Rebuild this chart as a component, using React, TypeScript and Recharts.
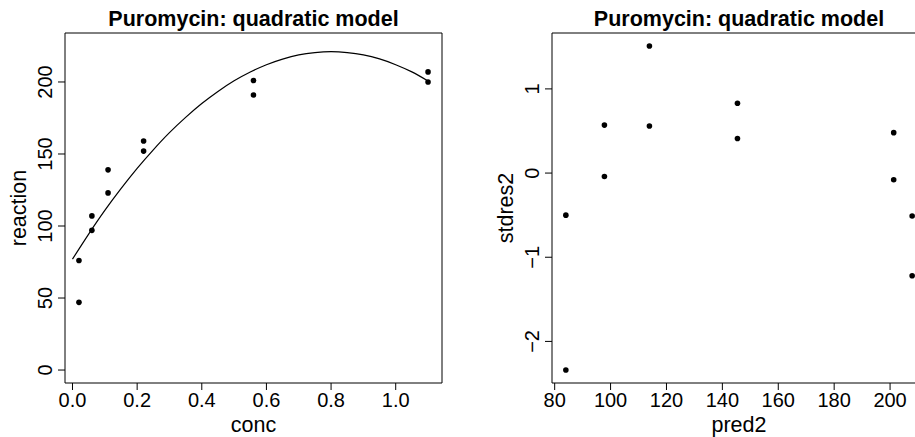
import React from 'react';
import { ComposedChart, ScatterChart, Scatter, Line, XAxis, YAxis, ReferenceArea } from 'recharts';

// Puromycin (treated) observations
const concValues = [0.02, 0.02, 0.06, 0.06, 0.11, 0.11, 0.22, 0.22, 0.56, 0.56, 1.1, 1.1];
const reactionValues = [76, 47, 97, 107, 123, 139, 159, 152, 191, 201, 207, 200];

// fitted quadratic curve
const fitConc = [0, 0.05, 0.1, 0.15, 0.2, 0.25, 0.3, 0.35, 0.4, 0.45, 0.5, 0.55, 0.6, 0.65, 0.7, 0.75, 0.8, 0.85, 0.9, 0.95, 1.0, 1.05, 1.1];
const fitReaction = [77, 94.4, 110.8, 125.9, 140, 152.9, 164.8, 175.4, 185, 193.4, 200.8, 206.9, 212, 215.9, 218.8, 220.4, 221, 220.4, 218.8, 216, 212, 207, 200.7];

// right panel: fitted values vs standardized residuals
const pred2Values = [84.0, 84.0, 97.8, 97.8, 113.9, 113.9, 145.4, 145.4, 207.9, 207.9, 201.3, 201.3];
const stdres2Values = [-0.5, -2.34, -0.04, 0.57, 0.56, 1.51, 0.83, 0.41, -1.22, -0.51, 0.48, -0.08];

const concTicks = [0, 0.2, 0.4, 0.6, 0.8, 1.0];
const reactionTicks = [0, 50, 100, 150, 200];
const reactionLimits = [0, 225];
const pred2Ticks = [80, 100, 120, 140, 160, 180, 200];
const stdres2Ticks = [-2, -1, 0, 1];

const FONT = '"Liberation Sans", Arial, Helvetica, sans-serif';

// R style axis range: data range padded by 4% each side
const rRange = (vals: number[]): [number, number] => {
  const lo = Math.min(...vals);
  const hi = Math.max(...vals);
  const ext = (hi - lo) * 0.04;
  return [lo - ext, hi + ext];
};

const leftX = rRange(concValues);
const leftY = rRange(reactionLimits);
const rightX = rRange(pred2Values);
const rightY = rRange(stdres2Values);

const obsData = concValues.map((c, i) => ({ x: c, y: reactionValues[i] }));
const fitData = fitConc.map((c, i) => ({ x: c, y: fitReaction[i] }));
const residData = pred2Values.map((p, i) => ({ x: p, y: stdres2Values[i] }));

const fmtMinus = (v: number) => (v < 0 ? '\u2212' + Math.abs(v) : String(v));

const XTick = ({ x, y, payload, fmt }: any) => (
  <text x={x} y={y} dy={15} textAnchor="middle" fontSize={20} fontFamily={FONT} fill="#000">
    {fmt(payload.value)}
  </text>
);

const YTick = ({ x, y, payload, fmt }: any) => (
  <text
    x={x - 4}
    y={y}
    transform={`rotate(-90 ${x - 4} ${y})`}
    textAnchor="middle"
    fontSize={20}
    fontFamily={FONT}
    fill="#000"
  >
    {fmt(payload.value)}
  </text>
);

const dot = (p: any) => <circle cx={p.cx} cy={p.cy} r={2.8} fill="#000" />;

const App = () => {
  return (
    <div style={{ position: 'absolute', left: 0, top: 0, width: 915, height: 437, overflow: 'hidden', background: '#fff' }}>
      <div style={{ position: 'absolute', left: 0, top: 0 }}>
        <ComposedChart width={460} height={437} margin={{ top: 33, right: 18, bottom: 0, left: 0 }}>
          <XAxis
            type="number"
            dataKey="x"
            domain={leftX}
            allowDataOverflow
            ticks={concTicks}
            interval={0}
            height={54}
            axisLine={false}
            tickSize={7}
            tickLine={{ stroke: '#000' }}
            tick={(p: any) => <XTick {...p} fmt={(v: number) => v.toFixed(1)} />}
          />
          <YAxis
            type="number"
            dataKey="y"
            domain={leftY}
            allowDataOverflow
            ticks={reactionTicks}
            interval={0}
            width={65}
            axisLine={false}
            tickSize={7}
            tickLine={{ stroke: '#000' }}
            tick={(p: any) => <YTick {...p} fmt={(v: number) => String(v)} />}
          />
          <ReferenceArea x1={leftX[0]} x2={leftX[1]} y1={leftY[0]} y2={leftY[1]} fill="none" stroke="#000" strokeWidth={1} fillOpacity={0} />
          <Line data={fitData} dataKey="y" type="monotone" stroke="#000" strokeWidth={1.2} dot={false} isAnimationActive={false} />
          <Scatter data={obsData} dataKey="y" shape={dot} isAnimationActive={false} />
        </ComposedChart>
      </div>
      <div style={{ position: 'absolute', left: 460, top: 0 }}>
        <ScatterChart width={470} height={437} margin={{ top: 33, right: 4, bottom: 0, left: 0 }}>
          <XAxis
            type="number"
            dataKey="x"
            domain={rightX}
            allowDataOverflow
            ticks={pred2Ticks}
            interval={0}
            height={54}
            axisLine={false}
            tickSize={7}
            tickLine={{ stroke: '#000' }}
            tick={(p: any) => <XTick {...p} fmt={(v: number) => String(v)} />}
          />
          <YAxis
            type="number"
            dataKey="y"
            domain={rightY}
            allowDataOverflow
            ticks={stdres2Ticks}
            interval={0}
            width={92}
            axisLine={false}
            tickSize={7}
            tickLine={{ stroke: '#000' }}
            tick={(p: any) => <YTick {...p} fmt={fmtMinus} />}
          />
          <ReferenceArea x1={rightX[0]} x2={rightX[1]} y1={rightY[0]} y2={rightY[1]} fill="none" stroke="#000" strokeWidth={1} fillOpacity={0} />
          <Scatter data={residData} dataKey="y" shape={dot} isAnimationActive={false} />
        </ScatterChart>
      </div>
      <svg width={915} height={437} style={{ position: 'absolute', left: 0, top: 0, pointerEvents: 'none' }} fontFamily={FONT}>
        <text x={253.5} y={26} textAnchor="middle" fontSize={21.5} fontWeight="bold">Puromycin: quadratic model</text>
        <text x={739} y={26} textAnchor="middle" fontSize={21.5} fontWeight="bold">Puromycin: quadratic model</text>
        <text x={253.5} y={432} textAnchor="middle" fontSize={21.5}>conc</text>
        <text x={739} y={432} textAnchor="middle" fontSize={21.5}>pred2</text>
        <text x={25.5} y={208} textAnchor="middle" fontSize={21.5} transform="rotate(-90 25.5 208)">reaction</text>
        <text x={512.5} y={208} textAnchor="middle" fontSize={21.5} transform="rotate(-90 512.5 208)">stdres2</text>
      </svg>
    </div>
  );
};

export default App;
